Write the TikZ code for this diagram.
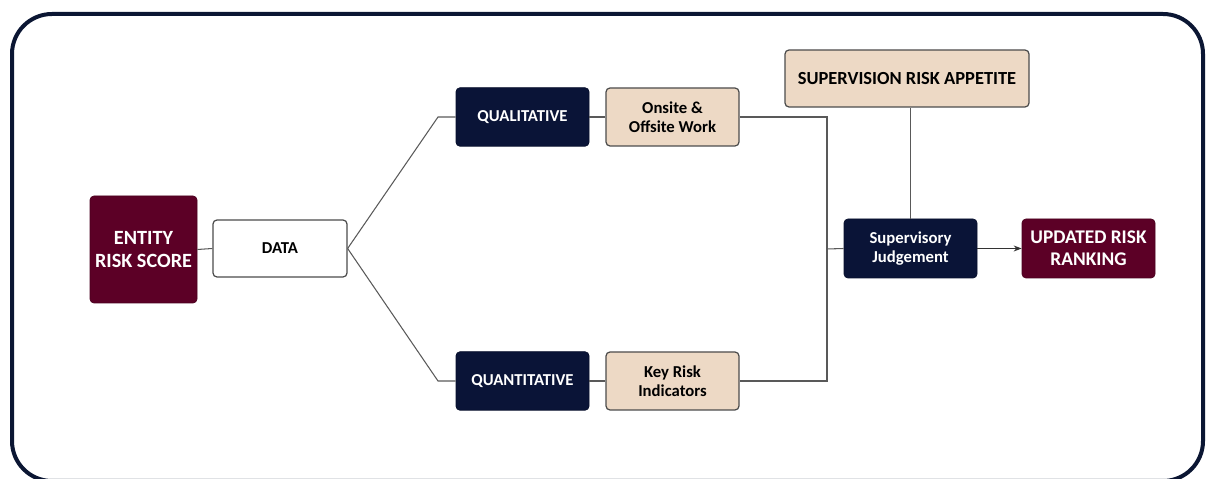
\documentclass[tikz,border=0pt]{standalone}
\usepackage{fontspec}
\setmainfont{Carlito}
\usetikzlibrary{arrows.meta}

\definecolor{wine}{HTML}{5C0026}
\definecolor{navy}{HTML}{0A1437}
\definecolor{sand}{HTML}{EDD9C5}
\definecolor{frame}{HTML}{0B1633}

\begin{document}
\begin{tikzpicture}[
			x=0.2mm, y=-0.2mm,
			box/.style={rectangle, rounded corners=0.8mm, align=center, font=\bfseries, inner sep=1pt},
			darkbox/.style={box, fill=navy, draw=navy!80!black, text=white, minimum width=2.66cm, minimum height=1.17cm},
			winebox/.style={box, fill=wine, draw=wine!80!black, text=white},
			sandbox/.style={box, fill=sand, draw=black!70, line width=0.7pt, minimum width=2.66cm, minimum height=1.16cm},
			link/.style={draw=black!65, line width=0.6pt}
		]
		\useasboundingbox (0,0) rectangle (1208,479);
		\begin{scope}
			\clip (0,0) rectangle (1208,479);
			\draw[frame, line width=0.8mm, rounded corners=8mm] (12,14) rectangle (1203,481);
		\end{scope}

		\node[winebox, minimum width=2.14cm, minimum height=2.14cm, font=\bfseries\fontsize{11.5}{13}\selectfont] (entity) at (143.5,249.5) {ENTITY\\RISK SCORE};
		\node[box, fill=white, draw=black!70, line width=0.7pt, minimum width=2.68cm, minimum height=1.14cm, font=\bfseries\fontsize{9.5}{11}\selectfont] (data) at (280,248.5) {DATA};

		\node[darkbox, font=\bfseries\fontsize{9.5}{11}\selectfont] (qual) at (522.5,117) {QUALITATIVE};
		\node[sandbox, font=\bfseries\fontsize{9.5}{11}\selectfont] (onsite) at (672.5,117) {Onsite \&\\Offsite Work};
		\node[darkbox, font=\bfseries\fontsize{9.5}{11}\selectfont] (quant) at (522.5,381) {QUANTITATIVE};
		\node[sandbox, font=\bfseries\fontsize{9.5}{11}\selectfont] (kri) at (672.5,381) {Key Risk\\Indicators};

		\node[sandbox, minimum width=4.88cm, minimum height=1.14cm, font=\bfseries\fontsize{10.5}{12}\selectfont] (appetite) at (907,78.5) {SUPERVISION RISK APPETITE};
		\node[darkbox, minimum height=1.18cm, font=\bfseries\fontsize{9.5}{11}\selectfont] (judge) at (910.5,248.5) {Supervisory\\Judgement};
		\node[winebox, minimum width=2.66cm, minimum height=1.18cm, font=\bfseries\fontsize{11}{12.5}\selectfont] (ranking) at (1088.5,248.5) {UPDATED RISK\\RANKING};

		\coordinate (qcorner) at (438,117);
		\coordinate (ncorner) at (438,381);
		\coordinate (jtop) at (827,117);
		\coordinate (jmid) at (827,249);
		\coordinate (jbot) at (827,381);

		\draw[link] (entity.east) -- (data.west);
		\draw[link] (data.east) -- (qcorner) -- (qual.west);
		\draw[link] (data.east) -- (ncorner) -- (quant.west);
		\draw[link] (qual.east) -- (onsite.west);
		\draw[link] (quant.east) -- (kri.west);
		\draw[link] (onsite.east) -- (jtop) -- (jbot) -- (kri.east);
		\draw[link] (jmid) -- (judge.west);
		\draw[link] (judge.north |- appetite.south) -- (judge.north);
		\draw[link, -{Stealth[length=1.6mm, width=1.2mm]}, draw=black!80] (judge.east) -- (ranking.west);
	\end{tikzpicture}
\end{document}
